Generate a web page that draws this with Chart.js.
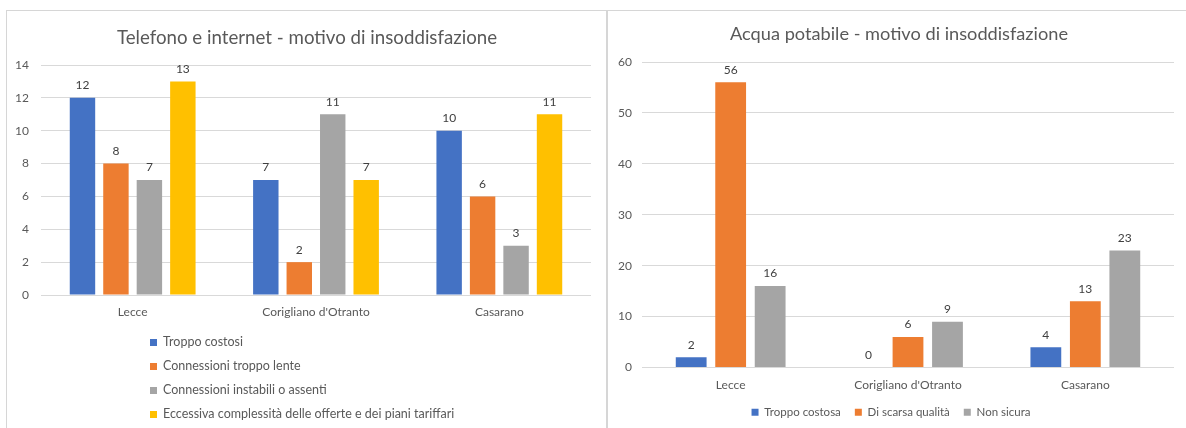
<!DOCTYPE html>
<html>
<head>
<meta charset="utf-8">
<script src="https://cdn.jsdelivr.net/npm/chart.js@4.4.1/dist/chart.umd.min.js"></script>
<style>
  html, body { margin: 0; padding: 0; background: #fff; width: 1186px; height: 428px; overflow: hidden; }
  canvas { position: absolute; top: 0; }
  .frame { position: absolute; top: 10px; height: 500px; border: 1px solid #d6d6d6; pointer-events: none; }
  .title { position: absolute; width: 600px; height: 22px; line-height: 22px; text-align: center;
           font-family: Lato, sans-serif; color: #595959; white-space: nowrap; }
  #legend1 { position: absolute; left: 150px; top: 333px; font-family: Lato, sans-serif; font-size: 12.5px; color: #595959; }
  #legend1 .item { height: 24px; line-height: 18px; white-space: nowrap; }
  #legend1 .sw { display: inline-block; width: 7px; height: 7px; margin-right: 6px; vertical-align: 0px; }
</style>
</head>
<body>
<canvas id="c1" width="606" height="428" style="left:0px;width:606px;height:428px"></canvas>
<canvas id="c2" width="578" height="428" style="left:608px;width:578px;height:428px"></canvas>
<div id="t1" class="title" style="left:7px;top:26px;font-size:18.7px"></div>
<div id="t2" class="title" style="left:599px;top:22px;font-size:18.2px"></div>
<div id="legend1"></div>
<div class="frame" style="left:6px;width:599px"></div>
<div class="frame" style="left:607px;width:600px"></div>
<script>
// ---- Data ----
const categories = ['Lecce', "Corigliano d'Otranto", 'Casarano'];

const title1 = 'Telefono e internet - motivo di insoddisfazione';
const series1Names = [
  'Troppo costosi',
  'Connessioni troppo lente',
  'Connessioni instabili o assenti',
  'Eccessiva complessità delle offerte e dei piani tariffari'
];
const troppoCostosi = [12, 7, 10];
const connessioniLente = [8, 2, 6];
const connessioniInstabili = [7, 11, 3];
const eccessivaComplessita = [13, 7, 11];
const yTicks1 = [0, 2, 4, 6, 8, 10, 12, 14];

const title2 = 'Acqua potabile - motivo di insoddisfazione';
const series2Names = ['Troppo costosa', 'Di scarsa qualità', 'Non sicura'];
const troppoCostosa = [2, 0, 4];
const scarsaQualita = [56, 6, 13];
const nonSicura = [16, 9, 23];
const yTicks2 = [0, 10, 20, 30, 40, 50, 60];

const colors = ['#4472C4', '#ED7D31', '#A5A5A5', '#FFC000'];
const FONT = 'Lato, sans-serif';
const TXT = '#595959';

document.getElementById('t1').textContent = title1;
document.getElementById('t2').textContent = title2;

const valueLabels = {
  id: 'valueLabels',
  afterDatasetsDraw(chart) {
    const ctx = chart.ctx;
    ctx.save();
    ctx.font = '12px ' + FONT;
    ctx.fillStyle = '#404040';
    ctx.textAlign = 'center';
    ctx.textBaseline = 'middle';
    chart.data.datasets.forEach((ds, i) => {
      const meta = chart.getDatasetMeta(i);
      meta.data.forEach((el, j) => {
        ctx.fillText(String(ds.data[j]), el.x, el.y - 12.5);
      });
    });
    ctx.restore();
  }
};

function makeChart(id, names, data, ticks, opts) {
  const datasets = names.map((n, i) => ({
    label: n, data: data[i], backgroundColor: colors[i],
    barPercentage: opts.barPct, categoryPercentage: opts.catPct
  }));
  return new Chart(document.getElementById(id), {
    type: 'bar',
    data: { labels: categories, datasets },
    plugins: [valueLabels],
    options: {
      responsive: false,
      animation: false,
      layout: { padding: { left: 0, right: opts.padRight, top: opts.padTop, bottom: opts.padBottom } },
      plugins: {
        title: { display: false },
        legend: opts.legend,
        tooltip: { enabled: false }
      },
      scales: {
        x: {
          grid: { display: false, drawTicks: false },
          border: { display: false },
          ticks: { color: TXT, font: { family: FONT, size: 12 }, padding: 10 },
          afterFit(s) { s.height = opts.xHeight; }
        },
        y: {
          min: ticks[0], max: ticks[ticks.length - 1],
          afterBuildTicks(s) { s.ticks = ticks.map(v => ({ value: v })); },
          grid: { color: '#d9d9d9', drawTicks: false },
          border: { display: false },
          ticks: { color: TXT, font: { family: FONT, size: 12 }, padding: opts.yPad },
          afterFit(s) { s.width = opts.yWidth; }
        }
      }
    }
  });
}

makeChart('c1', series1Names,
  [troppoCostosi, connessioniLente, connessioniInstabili, eccessivaComplessita], yTicks1,
  { barPct: 0.76, catPct: 0.73, padTop: 65, padRight: 15, padBottom: 93, xHeight: 40,
    yPad: 12, yWidth: 41,
    legend: { display: false } });

makeChart('c2', series2Names,
  [troppoCostosa, scarsaQualita, nonSicura], yTicks2,
  { barPct: 0.78, catPct: 0.668, padTop: 62, padRight: 12, padBottom: 0, xHeight: 25,
    yPad: 10, yWidth: 34,
    legend: { display: true, position: 'bottom',
      labels: { boxWidth: 7, boxHeight: 7, padding: 14, color: TXT, font: { family: FONT, size: 11.5 } } } });

// HTML legend for the left chart (vertical list)
const leg = document.getElementById('legend1');
series1Names.forEach((n, i) => {
  const d = document.createElement('div');
  d.className = 'item';
  const sw = document.createElement('span');
  sw.className = 'sw';
  sw.style.background = colors[i];
  d.appendChild(sw);
  d.appendChild(document.createTextNode(n));
  leg.appendChild(d);
});
</script>
</body>
</html>
